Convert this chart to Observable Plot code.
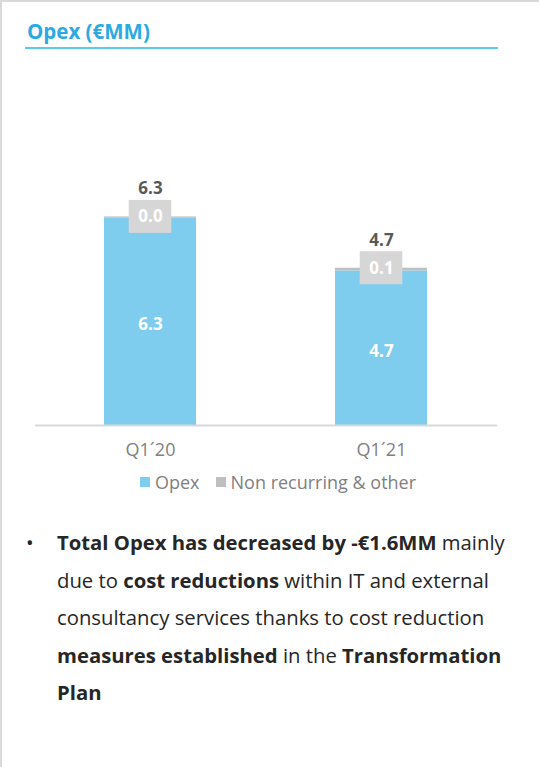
<!DOCTYPE html>
<html><head><meta charset="utf-8">
<script src="https://cdn.jsdelivr.net/npm/d3@7"></script>
<script src="https://cdn.jsdelivr.net/npm/@observablehq/plot@0.6"></script>
<style>
body{margin:0;background:#fff;font-family:"Open Sans",sans-serif;}
#page{position:relative;width:539px;height:767px;box-sizing:border-box;border-left:2px solid #d9d9d9;border-top:2px solid #d9d9d9;overflow:hidden;background:#fff;}
#title{position:absolute;left:25px;top:17px;font-weight:700;font-size:20.5px;color:#2BAAE2;line-height:24px;}
#rule{position:absolute;left:23px;top:45px;width:473px;height:2px;background:#5BC8F5;}
#chart{position:absolute;left:-2px;top:58px;}
#chart svg g[aria-label="x-axis tick label"] text, #chart svg g[aria-label="x-axis"] text{fill:#7f7f7f;}
#legend{position:absolute;left:138px;top:468px;font-size:18px;color:#7f7f7f;display:flex;align-items:center;white-space:nowrap;}
#legend .sw{display:inline-block;width:10px;height:10px;margin-right:5px;}
#legend .item{display:flex;align-items:center;margin-right:16px;}
#text{position:absolute;left:55px;top:522px;font-size:20.3px;line-height:37.5px;color:#262626;white-space:nowrap;}
#bullet{position:absolute;left:24px;top:522px;font-size:20.3px;line-height:37.5px;color:#262626;}
b{font-weight:700;}
</style></head>
<body>
<div id="page">
  <div id="title">Opex (€MM)</div>
  <div id="rule"></div>
  <div id="chart"></div>
  <div id="legend"></div>
  <div id="bullet">•</div>
  <div id="text"><b>Total Opex has decreased by -€1.6MM</b> mainly<br>due to <b>cost reductions</b> within IT and external<br>consultancy services thanks to cost reduction<br><b>measures established</b> in the <b>Transformation</b><br><b>Plan</b></div>
</div>
<script>
const quarters = ["Q1´20", "Q1´21"];
const seriesNames = ["Opex", "Non recurring & other"];
const opex = [6.3, 4.7];
const nonRecurring = [0.04, 0.08];
const totals = [6.3, 4.7];
const seriesColors = ["#7FCDEE", "#BFBFBF"];

const rows = quarters.flatMap((q, i) => [
  {q, series: seriesNames[0], v: opex[i]},
  {q, series: seriesNames[1], v: nonRecurring[i]}
]);
const idx = quarters.map((_, i) => i);
const stackTop = i => opex[i] + nonRecurring[i];

const chart = Plot.plot({
  width: 539,
  height: 410,
  marginLeft: 35,
  marginRight: 42,
  marginTop: 36,
  marginBottom: 45,
  style: {fontFamily: "'Open Sans', sans-serif", fontSize: "18px", color: "#7f7f7f", background: "transparent"},
  x: {domain: quarters, paddingInner: 0.6, paddingOuter: 0.3, label: null, tickSize: 0, tickPadding: 18},
  y: {domain: [0, 10], axis: null},
  color: {domain: seriesNames, range: seriesColors},
  marks: [
    Plot.barY(rows, {x: "q", y: "v", fill: "series", order: seriesNames}),
    Plot.ruleY([0], {stroke: "#d9d9d9", strokeWidth: 2}),
    Plot.barY(idx, {x: i => quarters[i], y1: stackTop, y2: stackTop, fill: "#D6D6D6",
      insetTop: -16.5, insetBottom: -16.5, insetLeft: 24.7, insetRight: 24.7}),
    Plot.text(idx, {x: i => quarters[i], y: stackTop, text: i => nonRecurring[i].toFixed(1),
      fill: "white", fontWeight: "bold", fontSize: 17}),
    Plot.text(idx, {x: i => quarters[i], y: stackTop, dy: -28, text: i => totals[i].toFixed(1),
      fill: "#595959", fontWeight: "bold", fontSize: 17}),
    Plot.text(idx, {x: i => quarters[i], y: i => opex[i] / 2, dy: 3, text: i => opex[i].toFixed(1),
      fill: "white", fontWeight: "bold", fontSize: 17})
  ]
});
document.getElementById("chart").appendChild(chart);

const legend = document.getElementById("legend");
seriesNames.forEach((name, i) => {
  const item = document.createElement("span");
  item.className = "item";
  const sw = document.createElement("span");
  sw.className = "sw";
  sw.style.background = seriesColors[i];
  item.appendChild(sw);
  item.appendChild(document.createTextNode(name));
  legend.appendChild(item);
});
</script>
</body></html>
